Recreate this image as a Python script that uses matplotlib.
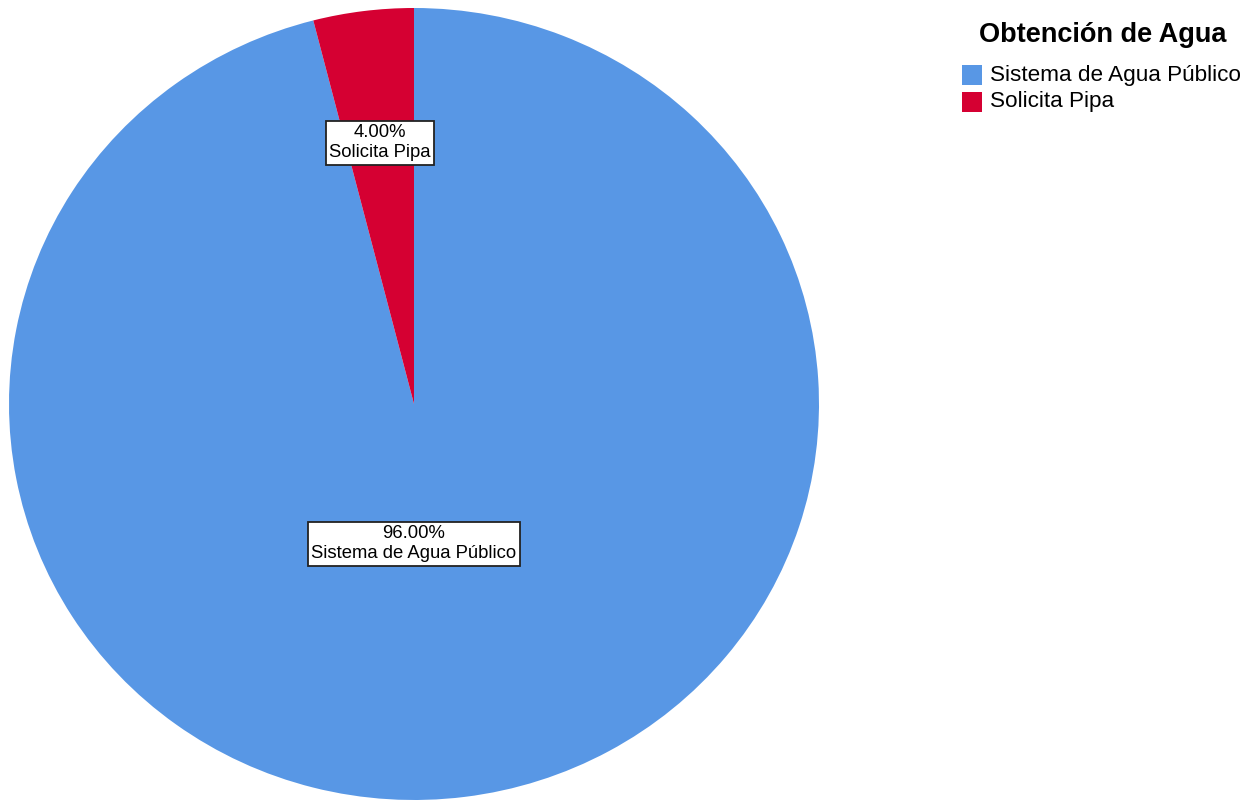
import matplotlib.pyplot as plt
from matplotlib.patches import Rectangle

plt.rcParams["font.family"] = ["Liberation Sans", "DejaVu Sans"]

# Data
categories = ["Sistema de Agua Público", "Solicita Pipa"]
percentages = [96.0, 4.0]
colors = ["#5897E5", "#D50032"]
legend_title = "Obtención de Agua"

# Boxed label anchors in axes data units (pie radius = 1)
LABEL_POS = [(0.0, -0.353), (-0.084, 0.66)]

W, H = 1253, 800


def px(x, y):
    """Pixel position (origin top-left) -> figure fraction."""
    return x / W, 1 - y / H


def main():
    fig = plt.figure(figsize=(W / 100, H / 100), dpi=100)
    # pie spans x 9..819, y 8..800 px
    ax = fig.add_axes([9 / W, 0, 810 / W, 792 / H])

    wedges, _ = ax.pie(
        percentages,
        colors=colors,
        startangle=90,
        counterclock=False,
        radius=1.0,
        wedgeprops={"linewidth": 0},
    )
    ax.set_xlim(-1, 1)
    ax.set_ylim(-1, 1)
    ax.set_aspect("auto")
    ax.axis("off")

    for pct, name, (lx, ly) in zip(percentages, categories, LABEL_POS):
        ax.text(
            lx, ly,
            f"{pct:.2f}%\n{name}",
            ha="center", va="center", fontsize=13.3, linespacing=1.2,
            bbox=dict(boxstyle="square,pad=0.2", facecolor="white",
                      edgecolor="#222222", linewidth=1.3),
        )

    # legend block, drawn by hand
    fig.text(*px(1103, 35), legend_title, ha="center", va="center",
             fontsize=19.5, fontweight="bold")
    for i, (name, c) in enumerate(zip(categories, colors)):
        yc = 75 + i * 27
        x0, y0 = px(962, yc + 10)
        fig.patches.append(Rectangle((x0, y0), 20 / W, 20 / H, facecolor=c,
                                     edgecolor="none", transform=fig.transFigure))
        fig.text(*px(990, yc), name, ha="left", va="center", fontsize=16.2)

    fig.savefig("out.png", dpi=100)
    plt.close(fig)


if __name__ == "__main__":
    main()
